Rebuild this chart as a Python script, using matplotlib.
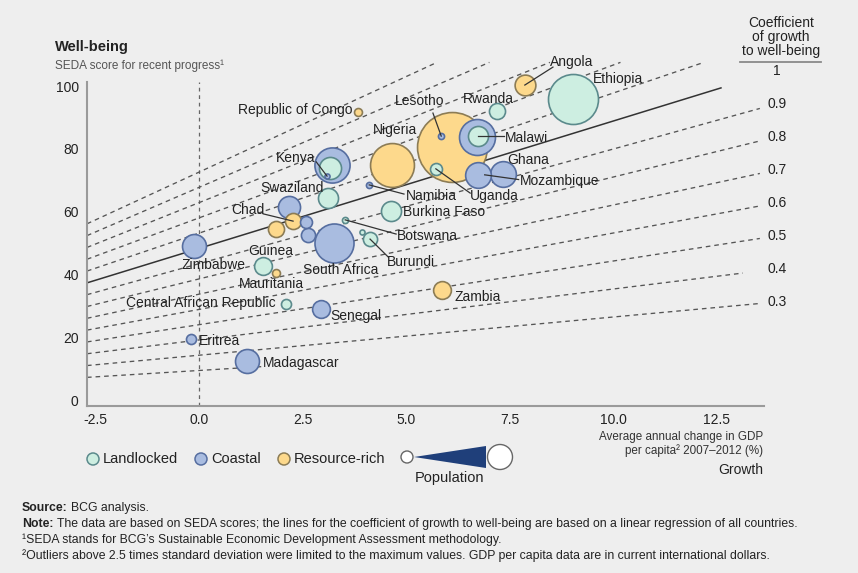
import matplotlib
matplotlib.use('Agg')
import matplotlib.pyplot as plt
from matplotlib.patches import Circle, Polygon
import numpy as np

plt.rcParams['font.family'] = ['Liberation Sans', 'DejaVu Sans']

# ---------------- data ----------------
countries = ['Nigeria', 'Ethiopia', 'DR Congo', 'South Africa', 'Tanzania', 'Kenya outer',
             'Madagascar', 'Zimbabwe', 'Mozambique', 'Ghana', 'Kenya inner', 'Blue west',
             'Angola', 'Malawi', 'Swaziland', 'Burkina Faso', 'Senegal', 'Guinea', 'Zambia',
             'Rwanda', 'Chad', 'Yellow west', 'Burundi', 'Blue small 2', 'Blue small 1',
             'Uganda', 'Central African Republic', 'Eritrea', 'Republic of Congo', 'Mauritania',
             'Lesotho', 'Namibia', 'Botswana', 'Kenya dot', 'Small dot']
growth = [6.11, 9.03, 4.66, 3.26, 6.71, 3.21,
          1.16, -0.12, 7.34, 6.74, 3.16, 2.17,
          7.87, 6.74, 3.12, 4.64, 2.95, 1.55, 5.87,
          7.20, 2.27, 1.86, 4.13, 2.63, 2.58,
          5.72, 2.10, -0.19, 3.84, 1.86,
          5.85, 4.11, 3.53, 3.09, 3.94]
wellbeing = [80.6, 95.9, 74.9, 50.2, 83.8, 74.9,
             12.7, 49.2, 72.1, 71.7, 74.0, 61.6,
             100.3, 84.1, 64.4, 60.3, 29.2, 42.9, 35.2,
             92.1, 57.1, 54.6, 51.4, 52.7, 56.8,
             73.7, 30.8, 19.7, 91.7, 40.6,
             84.1, 68.6, 57.5, 71.4, 53.7]
population = [170, 87, 67, 53, 45, 43,
              20, 20, 23, 23, 17, 17,
              15, 14, 14, 14, 11, 11, 11,
              9, 9, 9, 7, 7, 5,
              5, 3.5, 3.5, 2.2, 2.2,
              1.3, 1.3, 1.3, 0.9, 0.9]
ctype = ['R', 'L', 'R', 'C', 'C', 'C',
         'C', 'C', 'C', 'C', 'L', 'C',
         'R', 'L', 'L', 'L', 'C', 'L', 'R',
         'L', 'R', 'R', 'L', 'C', 'C',
         'L', 'L', 'C', 'R', 'R',
         'C', 'C', 'L', 'C', 'L']

reg_intercept = 48.45
reg_slope = 4.04
coefs_upper = [1.5, 1.4, 1.3, 1.2, 1.1]
coefs_lower = [0.9, 0.8, 0.7, 0.6, 0.5, 0.4, 0.3, 0.2]
coef_labels = [1, 0.9, 0.8, 0.7, 0.6, 0.5, 0.4, 0.3]
xticks = [-2.5, 0.0, 2.5, 5.0, 7.5, 10.0, 12.5]
yticks = [0, 20, 40, 60, 80, 100]

# ---------------- style ----------------
BG = '#eeeeee'
FILL = {'L': '#cdeee1', 'C': '#a9bce0', 'R': '#fdd98c'}
EDGE = {'L': '#5b8a8c', 'C': '#566ea0', 'R': '#8c7c55'}
W, H = 858, 573

fig = plt.figure(figsize=(W / 100, H / 100), dpi=100, facecolor=BG)
ax = fig.add_axes([87 / W, 1 - 406 / H, (764 - 87) / W, (406 - 82) / H])
ax.set_facecolor(BG)
XMIN, XMAX = -2.71, 13.65
ax.set_xlim(XMIN, XMAX)
ax.set_ylim(-1.59, 101.27)

for s in ['top', 'right']:
    ax.spines[s].set_visible(False)
for s in ['left', 'bottom']:
    ax.spines[s].set_color('#9a9a9a')
    ax.spines[s].set_linewidth(1.5)
ax.tick_params(length=0, labelsize=10, colors='#222222')
ax.tick_params(axis='x', pad=5)
ax.tick_params(axis='y', pad=6)
ax.set_xticks(xticks)
ax.set_xticklabels(['%.1f' % v for v in xticks])
ax.set_yticks(yticks)
ax.set_yticklabels([str(v) for v in yticks])

def F(x):
    return reg_intercept + reg_slope * np.asarray(x)

# vertical dashed line at 0
ax.axvline(0, color='#666666', lw=0.9, ls=(0, (3, 3)), zorder=1)

# coefficient lines
YCAP = 107.5
DASH = (0, (3.5, 3))
for c in coefs_upper:
    xe = min(13.55, (YCAP / c - reg_intercept) / reg_slope)
    xs = np.array([XMIN, xe])
    ax.plot(xs, c * F(xs), color='#555555', lw=0.95, ls=DASH, zorder=1, clip_on=False)
for c in coefs_lower:
    xe = 13.55
    if c == 0.4:
        xe = 13.14
    if c == 0.2:
        xe = 1.5
    xs = np.array([XMIN, xe])
    ax.plot(xs, c * F(xs), color='#555555', lw=0.95, ls=DASH, zorder=1, clip_on=False)
xs = np.array([XMIN, 12.61])
ax.plot(xs, F(xs), color='#333333', lw=1.1, zorder=1, clip_on=False)

# coefficient labels
xl = 13.96
for c in coef_labels:
    ax.text(xl, c * F(xl), str(c), ha='center', va='center', fontsize=10,
            color='#222222', clip_on=False)

# bubbles
order = np.argsort(population)[::-1]
for z, i in enumerate(order):
    ax.scatter(growth[i], wellbeing[i], s=14.9 * population[i], c=FILL[ctype[i]],
               edgecolors=EDGE[ctype[i]], linewidths=1.2, zorder=3 + z * 0.01, clip_on=False)

# labels
FS = 10
lab = dict(fontsize=FS, color='#222222', zorder=6, va='center')
labels = [
    ('Angola', 9.01, 107.6, 'center'),
    ('Ethiopia', 9.52, 102.2, 'left'),
    ('Rwanda', 6.98, 95.9, 'center'),
    ('Republic of Congo', 3.70, 92.4, 'right'),
    ('Lesotho', 5.34, 95.2, 'center'),
    ('Nigeria', 4.73, 86.0, 'center'),
    ('Malawi', 7.39, 83.5, 'left'),
    ('Ghana', 7.44, 76.5, 'left'),
    ('Mozambique', 7.75, 69.8, 'left'),
    ('Kenya', 2.34, 77.1, 'center'),
    ('Swaziland', 2.25, 67.6, 'center'),
    ('Namibia', 5.0, 65.1, 'left'),
    ('Uganda', 6.55, 65.1, 'left'),
    ('Burkina Faso', 4.93, 60.0, 'left'),
    ('Chad', 1.18, 60.6, 'center'),
    ('Botswana', 4.78, 52.4, 'left'),
    ('Burundi', 4.54, 44.1, 'left'),
    ('Guinea', 1.74, 47.6, 'center'),
    ('Zimbabwe', 0.34, 43.2, 'center'),
    ('South Africa', 3.41, 41.6, 'center'),
    ('Mauritania', 1.74, 37.1, 'center'),
    ('Central African Republic', 1.86, 31.1, 'right'),
    ('Senegal', 3.16, 27.0, 'left'),
    ('Eritrea', 0.0, 19.0, 'left'),
    ('Madagascar', 1.55, 12.1, 'left'),
    ('Zambia', 6.18, 33.0, 'left'),
]
for t, x, y, ha in labels:
    ax.text(x, y, t, ha=ha, clip_on=False, **lab)

leaders = [
    ((7.87, 100.3), (8.55, 106.0)),
    ((5.85, 84.1), (5.65, 91.4)),
    ((6.74, 84.1), (7.37, 84.1)),
    ((6.9, 71.8), (7.72, 70.3)),
    ((3.09, 71.4), (2.83, 75.9)),
    ((4.11, 68.6), (4.95, 65.7)),
    ((5.72, 73.7), (6.55, 66.0)),
    ((2.27, 57.1), (1.55, 59.4)),
    ((3.53, 57.5), (4.76, 53.0)),
    ((4.13, 51.4), (4.57, 45.7)),
]
for (x0, y0), (x1, y1) in leaders:
    ax.plot([x0, x1], [y0, y1], color='#333333', lw=0.9, zorder=5.5, clip_on=False)

# ---------------- overlay texts / legend (pixel coordinates) ----------------
lax = fig.add_axes([0, 0, 1, 1])
lax.set_xlim(0, W)
lax.set_ylim(H, 0)
lax.axis('off')

lax.text(55, 47, 'Well-being', fontsize=10.5, fontweight='bold', color='#222222', va='center')
lax.text(55, 66, 'SEDA score for recent progress\u00b9', fontsize=8.5, color='#555555', va='center')

for yy, t in [(23, 'Coefficient'), (37, 'of growth'), (51, 'to well-being')]:
    lax.text(781, yy, t, fontsize=10, ha='center', va='center', color='#222222')
lax.plot([740, 821], [62, 62], color='#8a8a8a', lw=1.3)

lax.text(763, 437, 'Average annual change in GDP', fontsize=8.4, ha='right', va='center', color='#333333')
lax.text(763, 451, 'per capita\u00b2 2007\u20132012 (%)', fontsize=8.4, ha='right', va='center', color='#333333')
lax.text(763, 470, 'Growth', fontsize=10, ha='right', va='center', color='#222222')

for cx, key, txt in [(93, 'L', 'Landlocked'), (201, 'C', 'Coastal'), (284, 'R', 'Resource-rich')]:
    lax.add_patch(Circle((cx, 459), 6, facecolor=FILL[key], edgecolor=EDGE[key], lw=1.1))
    lax.text(cx + 10, 459, txt, fontsize=10.5, va='center', color='#222222')

lax.add_patch(Circle((407, 457), 6, facecolor='white', edgecolor='#666666', lw=1.0))
lax.add_patch(Polygon([(414, 457), (486, 446), (486, 468)], closed=True,
                      facecolor='#1f3f7a', edgecolor='none'))
lax.add_patch(Circle((500, 457), 12.5, facecolor='white', edgecolor='#666666', lw=1.0))
lax.text(450, 478, 'Population', fontsize=10.5, ha='center', va='center', color='#222222')

FT = 8.8
renderer = fig.canvas.get_renderer()

def bold_then_normal(y, bold, rest):
    t = lax.text(22, y, bold, fontsize=FT, fontweight='bold', va='center', color='#222222')
    bb = t.get_window_extent(renderer=renderer)
    lax.text(bb.x1 + 3.5, y, rest, fontsize=FT, va='center', color='#222222')

bold_then_normal(508, 'Source:', 'BCG analysis.')
bold_then_normal(524, 'Note:', 'The data are based on SEDA scores; the lines for the coefficient of growth to '
                 'well-being are based on a linear regression of all countries.')
lax.text(22, 540, '\u00b9SEDA stands for BCG\u2019s Sustainable Economic Development Assessment methodology.',
         fontsize=FT, va='center', color='#222222')
lax.text(22, 556, '\u00b2Outliers above 2.5 times standard deviation were limited to the maximum values. '
         'GDP per capita data are in current international dollars.',
         fontsize=FT, va='center', color='#222222')

fig.savefig('out.png', dpi=100, facecolor=BG)
